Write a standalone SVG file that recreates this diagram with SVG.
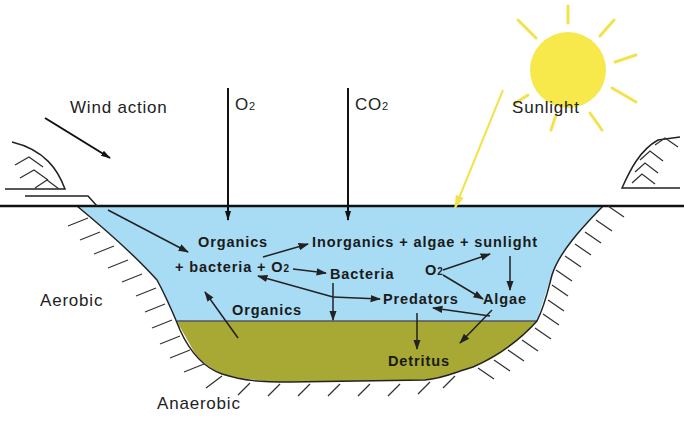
<svg xmlns="http://www.w3.org/2000/svg" width="684" height="434" viewBox="0 0 684 434">
<style>
.t{font-family:"Liberation Sans",Arial,sans-serif;font-size:17px;letter-spacing:0.8px;fill:#222}
.b{font-family:"Liberation Sans",Arial,sans-serif;font-size:14.5px;font-weight:bold;letter-spacing:0.9px;fill:#1a1a1a}
.ln{stroke:#222;stroke-width:1.5;fill:none}
.h{stroke:#333;stroke-width:1.3;fill:none}
.r{stroke:#f2e24c;stroke-width:3;stroke-linecap:round}
</style>
<defs>
<marker id="a" viewBox="0 0 10 10" refX="9" refY="5" markerWidth="7" markerHeight="7" orient="auto"><path d="M0,1.5 L10,5 L0,8.5Z" fill="#222"/></marker>
<marker id="aw" viewBox="0 0 10 10" refX="9" refY="5" markerWidth="5" markerHeight="5" orient="auto"><path d="M0,2 L10,5 L0,8Z" fill="#111"/></marker>
<marker id="ay" viewBox="0 0 10 10" refX="9" refY="5" markerWidth="7" markerHeight="7" orient="auto"><path d="M0,2 L10,5 L0,8Z" fill="#f2e24c"/></marker>
</defs>
<rect width="684" height="434" fill="#fff"/>
<g id="pond">
<path d="M77,206 L603,206 C585,225 560,250 552,275 C545,295 540,310 537,321 L177,321 C165,300 160,285 157,280 C130,250 100,225 77,206Z" fill="#a8dcf4"/>
<path d="M177,321 L537,321 C520,340 495,360 473,367 C455,372 445,378 425,380 L277,382 C250,380 230,377 220,373 C205,365 195,355 193,350 C185,335 180,328 177,321Z" fill="#a7a934"/>
<line x1="177" y1="321" x2="537" y2="321" stroke="#556" stroke-width="1.5"/>
<path class="ln" stroke-width="2.5" d="M77,206 C100,225 130,250 157,280 C168,300 175,318 180,330 C190,352 205,368 222,374 C245,381 260,382 290,382 L425,380 C445,378 455,372 473,367 C500,355 520,340 537,321 C545,305 548,290 552,275 C560,250 585,225 603,206"/>
<line x1="0" y1="206" x2="684" y2="206" stroke="#111" stroke-width="2.5"/>
<g class="h">
<path d="M88,218 l-20,8 M100,232 l-20,8 M114,246 l-20,8 M128,260 l-20,8 M142,274 l-20,8 M156,288 l-20,8 M165,304 l-20,8 M172,320 l-20,8 M180,336 l-20,8 M190,350 l-20,8 M204,364 l-20,8 M222,376 l-16,12"/>
<path d="M250,383 l-12,12 M280,384 l-12,12 M310,384 l-12,12 M340,384 l-12,12 M370,384 l-12,12 M400,384 l-12,12 M430,382 l-12,12 M455,376 l-12,12"/>
<path d="M608,206 l16,11 M596,220 l16,11 M585,232 l16,11 M575,244 l16,11 M565,256 l16,11 M556,270 l16,11 M552,285 l16,11 M548,300 l16,11 M543,314 l16,11 M535,328 l16,11 M522,340 l16,11 M508,350 l16,11 M494,360 l16,11 M478,368 l16,11"/>
</g>
</g>
<g id="banks" class="ln" stroke-width="2">
<path d="M5,189 L65,189 C58,170 45,150 12,142"/>
<path d="M25,196 L88,196 L97,206"/>
<path class="h" d="M15,165 l14,-8 l14,10 M20,178 l14,-8 l14,10 M35,188 l12,-8 l12,9"/>
<path d="M680,188 L622,188 C630,170 640,150 658,140 L680,137"/>
<path class="h" d="M640,160 l10,-9 l13,10 M635,172 l10,-9 l13,10 M632,183 l10,-9 l13,10 M655,145 l10,-7 l13,9"/>
</g>
<g id="sun">
<circle cx="568" cy="70" r="38" fill="#f7e84c"/>
<g class="r">
<line x1="568" y1="23" x2="568" y2="6"/><line x1="600" y1="36" x2="614" y2="20"/>
<line x1="615" y1="62" x2="636" y2="55"/><line x1="612" y1="88" x2="636" y2="102"/>
<line x1="536" y1="38" x2="518" y2="20"/><line x1="590" y1="113" x2="602" y2="130"/>
<line x1="556" y1="115" x2="551" y2="130"/><line x1="528" y1="95" x2="514" y2="104"/>
</g>
</g>
<g id="connectors">
<line x1="503" y1="90" x2="455" y2="208" stroke="#f2e24c" stroke-width="2" marker-end="url(#ay)"/>
<line x1="45" y1="118" x2="110" y2="158" stroke="#111" stroke-width="2" marker-end="url(#aw)"/>
<line x1="228" y1="88" x2="228" y2="220" stroke="#111" stroke-width="2" marker-end="url(#aw)"/>
<line x1="348" y1="88" x2="348" y2="220" stroke="#111" stroke-width="2" marker-end="url(#aw)"/>
<g class="ln" marker-end="url(#a)">
<line x1="108" y1="210" x2="188" y2="252"/>
<line x1="263" y1="257" x2="308" y2="244"/>
<line x1="293" y1="269" x2="326" y2="273"/>
<path d="M333,297 L258,276"/>
<line x1="333" y1="297" x2="380" y2="299"/>
<line x1="333" y1="283" x2="333" y2="320"/>
<line x1="443" y1="270" x2="490" y2="254"/>
<line x1="443" y1="275" x2="483" y2="299"/>
<line x1="510" y1="256" x2="510" y2="290"/>
<line x1="490" y1="316" x2="433" y2="308"/>
<line x1="492" y1="310" x2="460" y2="343"/>
<line x1="417" y1="313" x2="417" y2="349"/>
<line x1="238" y1="338" x2="205" y2="292"/>
</g>
</g>
<g id="labels">
<text class="t" x="70" y="113">Wind action</text>
<text class="t" x="235" y="110">O<tspan font-size="11">2</tspan></text>
<text class="t" x="355" y="110">CO<tspan font-size="11">2</tspan></text>
<text class="t" x="512" y="113">Sunlight</text>
<text class="t" x="40" y="306">Aerobic</text>
<text class="t" x="157" y="409">Anaerobic</text>
<text class="b" x="198" y="247">Organics</text>
<text class="b" x="175" y="272">+ bacteria + O<tspan font-size="10">2</tspan></text>
<text class="b" x="312" y="247">Inorganics + algae + sunlight</text>
<text class="b" x="330" y="279">Bacteria</text>
<text class="b" x="425" y="275">O<tspan font-size="10">2</tspan></text>
<text class="b" x="383" y="304">Predators</text>
<text class="b" x="483" y="304">Algae</text>
<text class="b" x="232" y="315">Organics</text>
<text class="b" x="388" y="366">Detritus</text>
</g>
</svg>
